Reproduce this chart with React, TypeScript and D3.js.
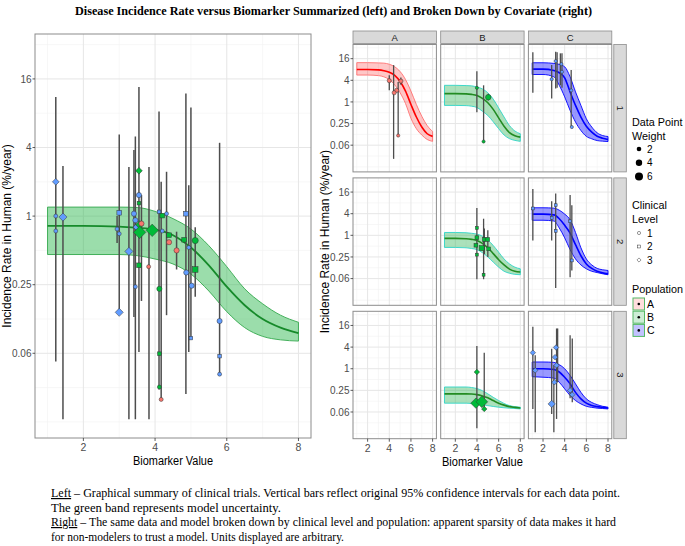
import React from "react";
import * as d3 from "d3";

const W = 685;
const H = 546;

const popColor: Record<string, string> = { A: "#F8766D", B: "#00BA38", C: "#619CFF" };

// model curve grid (biomarker values)
const curveX = [1, 2, 3, 3.5, 4, 4.5, 5, 5.5, 6, 6.5, 7, 7.5, 8];

// left: overall model
const leftMid = [0.82, 0.82, 0.81, 0.79, 0.76, 0.68, 0.53, 0.37, 0.24, 0.165, 0.125, 0.105, 0.094];
const leftLo = [0.46, 0.46, 0.46, 0.45, 0.42, 0.38, 0.31, 0.22, 0.145, 0.105, 0.088, 0.082, 0.08];
const leftHi = [1.2, 1.2, 1.2, 1.19, 1.1, 0.95, 0.77, 0.55, 0.36, 0.23, 0.17, 0.135, 0.117];

// facets: model per level (1-3) x population (A-C)
const a1Mid = [8, 8, 7.8, 7.4, 6.7, 5.5, 3.7, 2.0, 0.85, 0.38, 0.2, 0.13, 0.11];
const a1Lo = [5.6, 5.6, 5.4, 5.0, 4.2, 3.0, 1.8, 0.9, 0.35, 0.18, 0.12, 0.09, 0.08];
const a1Hi = [12.4, 12.4, 12.2, 12, 11.2, 9.5, 7.0, 4.2, 2.0, 0.85, 0.4, 0.22, 0.15];

const b1Mid = [1.7, 1.7, 1.68, 1.62, 1.5, 1.25, 0.95, 0.62, 0.36, 0.21, 0.14, 0.115, 0.105];
const b1Lo = [0.8, 0.8, 0.79, 0.76, 0.7, 0.55, 0.42, 0.28, 0.18, 0.12, 0.095, 0.085, 0.08];
const b1Hi = [2.9, 2.9, 2.85, 2.8, 2.6, 2.3, 1.8, 1.2, 0.68, 0.38, 0.22, 0.155, 0.13];

const c1Mid = [8.2, 8.2, 7.5, 6.5, 4.7, 1.9, 0.8, 0.38, 0.21, 0.144, 0.111, 0.098, 0.09];
const c1Lo = [5.8, 5.8, 5.0, 2.9, 1.38, 0.58, 0.275, 0.16, 0.11, 0.094, 0.084, 0.081, 0.079];
const c1Hi = [12.3, 12.3, 11.8, 11.1, 9.5, 5.0, 1.9, 0.8, 0.34, 0.2, 0.138, 0.116, 0.109];

const b2Mid = [0.82, 0.82, 0.8, 0.77, 0.72, 0.6, 0.45, 0.31, 0.21, 0.15, 0.115, 0.1, 0.095];
const b2Lo = [0.46, 0.46, 0.45, 0.43, 0.4, 0.33, 0.25, 0.18, 0.13, 0.1, 0.088, 0.082, 0.08];
const b2Hi = [1.2, 1.2, 1.18, 1.14, 1.08, 0.95, 0.75, 0.52, 0.34, 0.22, 0.16, 0.13, 0.117];

const c2Mid = [3.9, 3.9, 3.7, 2.9, 1.9, 1.15, 0.55, 0.27, 0.16, 0.12, 0.1, 0.09, 0.085];
const c2Lo = [2.63, 2.63, 2.5, 1.6, 0.85, 0.4, 0.22, 0.15, 0.117, 0.1, 0.092, 0.085, 0.08];
const c2Hi = [5.85, 5.85, 5.7, 5.0, 3.9, 2.7, 1.2, 0.45, 0.22, 0.15, 0.12, 0.11, 0.105];

const b3Mid = [0.2, 0.2, 0.2, 0.198, 0.19, 0.175, 0.155, 0.13, 0.11, 0.097, 0.088, 0.084, 0.081];
const b3Lo = [0.11, 0.11, 0.11, 0.108, 0.104, 0.1, 0.094, 0.089, 0.085, 0.082, 0.08, 0.078, 0.076];
const b3Hi = [0.31, 0.31, 0.31, 0.3, 0.28, 0.245, 0.2, 0.16, 0.13, 0.108, 0.094, 0.088, 0.085];

const c3Mid = [1.0, 1.0, 0.95, 0.81, 0.58, 0.38, 0.22, 0.145, 0.11, 0.095, 0.088, 0.084, 0.081];
const c3Lo = [0.6, 0.58, 0.55, 0.42, 0.275, 0.18, 0.13, 0.105, 0.09, 0.084, 0.08, 0.078, 0.076];
const c3Hi = [1.54, 1.54, 1.5, 1.3, 1.0, 0.65, 0.38, 0.22, 0.145, 0.115, 0.1, 0.09, 0.085];

// left points: [biomarker, rate, clinical level, weight]
const leftPtsC = [
  [1.23, 2.0, 3, 2], [1.23, 1.0, 1, 1], [1.23, 0.74, 1, 1], [1.43, 0.98, 3, 3],
  [3.0, 1.07, 2, 2], [2.94, 0.77, 1, 1], [3.0, 0.7, 1, 1], [3.0, 0.143, 3, 3],
  [3.27, 0.49, 3, 3], [3.41, 1.05, 1, 2], [3.45, 0.92, 1, 2], [3.45, 0.24, 1, 1],
  [3.55, 1.53, 1, 2], [3.48, 0.8, 3, 2], [4.11, 1.09, 2, 1], [4.2, 0.74, 1, 1],
  [4.32, 1.05, 1, 1], [4.86, 1.05, 2, 2], [4.94, 0.53, 1, 1], [4.87, 0.32, 1, 2],
  [5.02, 0.245, 1, 2], [5.0, 0.085, 2, 1], [5.8, 0.12, 1, 2], [5.8, 0.059, 2, 1],
  [5.8, 0.041, 1, 1],
];
const leftPtsB = [
  [3.55, 2.5, 3, 2], [3.55, 1.3, 2, 1], [3.57, 0.84, 3, 3], [3.57, 0.72, 3, 6],
  [3.55, 0.37, 2, 2], [3.92, 0.75, 3, 6], [4.2, 1.01, 2, 2], [4.12, 0.23, 1, 2],
  [4.12, 0.062, 2, 1], [4.12, 0.0316, 1, 1], [4.39, 0.68, 2, 2], [4.81, 0.62, 2, 2],
  [5.12, 0.61, 1, 3], [5.12, 0.34, 2, 3],
];
const leftPtsA = [
  [3.62, 0.86, 1, 2], [3.82, 0.36, 1, 1], [4.39, 0.59, 1, 2], [4.6, 0.5, 1, 2],
  [4.17, 0.0246, 1, 1],
];
// confidence intervals: [biomarker, lower, upper]
const leftBars = [
  [1.23, 0.053, 11.1], [1.43, 0.0165, 2.75], [3.0, 0.143, 5.2], [2.94, 0.58, 1.0],
  [3.27, 0.0165, 2.7], [3.41, 0.13, 3.8], [3.45, 0.0165, 5.0], [3.55, 0.064, 13.6],
  [3.62, 0.18, 1.53], [3.83, 0.0165, 2.7], [4.11, 0.03, 8.3], [4.17, 0.0246, 2.0],
  [4.32, 0.135, 2.45], [4.6, 0.34, 0.73], [4.86, 0.0275, 11.9], [4.94, 0.064, 1.87],
  [5.0, 0.085, 9.0], [5.12, 0.196, 0.8], [5.8, 0.041, 4.4],
];

// facet points: [biomarker, rate, weight]
const ptsA1 = [[4.0, 3.9, 2], [4.68, 2.1, 2], [4.45, 1.8, 2], [5.07, 3.8, 2], [4.82, 0.116, 1]];
const barsA1 = [[4.0, 2.1, 5.5], [4.4, 0.026, 10.6], [4.82, 0.116, 3.6], [5.07, 3.0, 4.8]];
const ptsB1 = [[3.99, 2.47, 1], [5.04, 1.35, 3], [4.61, 0.079, 1]];
const barsB1 = [[3.99, 0.52, 7.2], [4.61, 0.079, 2.9], [5.04, 1.1, 1.7]];
const ptsC1 = [[3.17, 13.7, 1], [2.8, 4.3, 1], [3.7, 11.3, 1], [3.75, 6.9, 1], [4.6, 2.1, 1], [4.66, 0.2, 1]];
const barsC1 = [[1.06, 1.8, 24], [2.8, 1.24, 10.6], [3.17, 2.36, 25], [3.3, 2.5, 24], [3.6, 2.9, 22.5], [3.75, 2.5, 22.5], [4.6, 0.2, 7.7]];
const ptsB2 = [[3.99, 1.61, 1], [3.99, 0.86, 2], [3.9, 0.53, 2], [3.99, 0.29, 1], [4.43, 0.44, 3], [4.68, 0.76, 2], [4.99, 0.77, 2], [5.08, 0.42, 2], [4.61, 0.08, 1]];
const barsB2 = [[3.99, 0.06, 5.8], [4.61, 0.06, 2.9], [4.68, 0.3, 1.54], [5.0, 0.25, 1.38]];
const ptsC2 = [[1.06, 5.6, 1], [2.8, 3.07, 1], [3.17, 6.9, 1], [3.17, 1.33, 1], [4.5, 2.46, 1], [4.66, 0.2, 1]];
const barsC2 = [[1.06, 0.72, 19.4], [2.8, 0.72, 8.9], [3.17, 0.034, 14.7], [4.5, 0.068, 13.2], [4.66, 0.105, 6.9]];
const ptsB3 = [[3.99, 0.81, 2], [3.9, 0.11, 5], [4.45, 0.12, 6], [4.67, 0.076, 2]];
const barsB3 = [[3.99, 0.022, 4.3], [4.67, 0.076, 2.8]];
const ptsC3 = [[1.06, 2.8, 2], [1.28, 0.9, 2], [2.8, 0.105, 3], [3.11, 2.1, 2], [3.2, 3.9, 2], [3.25, 1.24, 2], [3.05, 0.42, 2], [4.5, 0.25, 2], [4.7, 0.19, 2]];
const barsC3 = [[1.06, 0.076, 14.7], [1.28, 0.017, 2.36], [2.8, 0.055, 3.6], [3.0, 0.017, 1.24], [3.25, 0.04, 13.2], [3.35, 0.42, 13.2], [4.5, 0.15, 8.6], [4.7, 0.117, 6.9]];

const populations = ["A", "B", "C"];
const levels = ["1", "2", "3"];
const weightKeys = [2, 4, 6];
const yMajor = [16, 4, 1, 0.25, 0.0625];
const yLabels = ["16", "4", "1", "0.25", "0.06"];
const yMinor = [32, 8, 2, 0.5, 0.125, 0.03125, 0.015625];
const xMajor = [2, 4, 6, 8];
const xMinor = [1, 3, 5, 7];

const Y_DOMAIN: [number, number] = [Math.pow(2, -6.47), Math.pow(2, 5.31)];
const X_DOMAIN: [number, number] = [0.65, 8.35];

const font = "'Liberation Sans', Arial, sans-serif";
const serif = "'Liberation Serif', 'Times New Roman', serif";

const bandStyle: Record<string, any> = {
  A: { fill: "#ff0000", op: 0.22, stroke: "#ff7070", line: "#ff0000" },
  B: { fill: "#22b14c", op: 0.38, stroke: "#30d5c8", line: "#228b22" },
  C: { fill: "#0000ff", op: 0.4, stroke: "#0000ff", line: "#0000ff" },
};

function Mark({ level, cx, cy, r, fill }: any) {
  const common = { fill, stroke: "#333", strokeWidth: 0.5 };
  if (level === 1) return <circle cx={cx} cy={cy} r={r} {...common} />;
  if (level === 2) {
    const s = r * 0.9;
    return <rect x={cx - s} y={cy - s} width={2 * s} height={2 * s} {...common} />;
  }
  const d = r * 1.3;
  return <path d={`M${cx},${cy - d}L${cx + d},${cy}L${cx},${cy + d}L${cx - d},${cy}Z`} {...common} />;
}

function Grid({ x, y, x0, x1, y0, y1 }: any) {
  return (
    <g>
      {yMinor.map((v) => (
        <line key={"ym" + v} x1={x0} x2={x1} y1={y(v)} y2={y(v)} stroke="#f2f2f2" strokeWidth={0.6} />
      ))}
      {xMinor.map((v) => (
        <line key={"xm" + v} x1={x(v)} x2={x(v)} y1={y0} y2={y1} stroke="#f2f2f2" strokeWidth={0.6} />
      ))}
      {yMajor.map((v) => (
        <line key={"yM" + v} x1={x0} x2={x1} y1={y(v)} y2={y(v)} stroke="#e6e6e6" strokeWidth={1} />
      ))}
      {xMajor.map((v) => (
        <line key={"xM" + v} x1={x(v)} x2={x(v)} y1={y0} y2={y1} stroke="#e6e6e6" strokeWidth={1} />
      ))}
    </g>
  );
}

function Band({ x, y, mid, lo, hi, fill, op, stroke, line, sw, lw }: any) {
  const idx = curveX.map((_, i) => i);
  const area = d3.area<number>().x((i) => x(curveX[i])).y0((i) => y(lo[i])).y1((i) => y(hi[i])).curve(d3.curveMonotoneX);
  const ln = d3.line<number>().x((i) => x(curveX[i])).y((i) => y(mid[i])).curve(d3.curveMonotoneX);
  return (
    <g>
      <path d={area(idx) as string} fill={fill} fillOpacity={op} stroke={stroke} strokeWidth={sw} />
      <path d={ln(idx) as string} fill="none" stroke={line} strokeWidth={lw} />
    </g>
  );
}

function LeftPanel() {
  const x0 = 35, x1 = 311, y0 = 34, y1 = 438;
  const x = d3.scaleLinear().domain(X_DOMAIN).range([x0, x1]);
  const y = d3.scaleLog().base(2).domain(Y_DOMAIN).range([y1, y0]);
  const rOf = (w: number) => ({ 1: 2, 2: 2.6, 3: 3.1, 5: 4.3, 6: 4.8 } as any)[w];
  const all = [
    ...leftPtsC.map((p) => ({ p, pop: "C" })),
    ...leftPtsB.map((p) => ({ p, pop: "B" })),
    ...leftPtsA.map((p) => ({ p, pop: "A" })),
  ];
  return (
    <g>
      <rect x={x0} y={y0} width={x1 - x0} height={y1 - y0} fill="#fff" />
      <Grid x={x} y={y} x0={x0} x1={x1} y0={y0} y1={y1} />
      <Band x={x} y={y} mid={leftMid} lo={leftLo} hi={leftHi} fill="#2fb84f" op={0.48} stroke="#33a84d" line="#168a2a" sw={0.9} lw={1.8} />
      {leftBars.map((b, i) => (
        <line key={i} x1={x(b[0])} x2={x(b[0])} y1={y(b[1])} y2={y(b[2])} stroke="#4d4d4d" strokeWidth={1.5} />
      ))}
      {all.map(({ p, pop }, i) => (
        <Mark key={i} level={p[2]} cx={x(p[0])} cy={y(p[1])} r={rOf(p[3])} fill={popColor[pop]} />
      ))}
      <rect x={x0} y={y0} width={x1 - x0} height={y1 - y0} fill="none" stroke="#8c8c8c" strokeWidth={1} />
      {yMajor.map((v, i) => (
        <g key={v}>
          <line x1={x0 - 2.5} x2={x0} y1={y(v)} y2={y(v)} stroke="#333" strokeWidth={0.8} />
          <text x={x0 - 3.5} y={y(v) + 3.6} textAnchor="end" fontSize={10} fill="#4d4d4d" fontFamily={font}>{yLabels[i]}</text>
        </g>
      ))}
      {xMajor.map((v) => (
        <g key={v}>
          <line x1={x(v)} x2={x(v)} y1={y1} y2={y1 + 3} stroke="#333" strokeWidth={0.8} />
          <text x={x(v)} y={y1 + 13} textAnchor="middle" fontSize={10.5} fill="#4d4d4d" fontFamily={font}>{v}</text>
        </g>
      ))}
      <text x={(x0 + x1) / 2} y={465} textAnchor="middle" fontSize={12} fontFamily={font} textLength={80} lengthAdjust="spacingAndGlyphs">Biomarker Value</text>
      <text transform={`translate(10.5,${(y0 + y1) / 2}) rotate(-90)`} textAnchor="middle" fontSize={12} fontFamily={font}>Incidence Rate in Human (%/year)</text>
    </g>
  );
}

const facetDefs = [
  { row: 0, col: 0, pop: "A", curve: [a1Mid, a1Lo, a1Hi], pts: ptsA1, bars: barsA1 },
  { row: 0, col: 1, pop: "B", curve: [b1Mid, b1Lo, b1Hi], pts: ptsB1, bars: barsB1 },
  { row: 0, col: 2, pop: "C", curve: [c1Mid, c1Lo, c1Hi], pts: ptsC1, bars: barsC1 },
  { row: 1, col: 0, pop: "A", curve: null, pts: [], bars: [] },
  { row: 1, col: 1, pop: "B", curve: [b2Mid, b2Lo, b2Hi], pts: ptsB2, bars: barsB2 },
  { row: 1, col: 2, pop: "C", curve: [c2Mid, c2Lo, c2Hi], pts: ptsC2, bars: barsC2 },
  { row: 2, col: 0, pop: "A", curve: null, pts: [], bars: [] },
  { row: 2, col: 1, pop: "B", curve: [b3Mid, b3Lo, b3Hi], pts: ptsB3, bars: barsB3 },
  { row: 2, col: 2, pop: "C", curve: [c3Mid, c3Lo, c3Hi], pts: ptsC3, bars: barsC3 },
];

const PX0 = 353, PW = 83.4, PSTEP = 87.7;
const PY0 = 44.5, PH = 127.4, RSTEP = 133.4;

function Facet({ def }: any) {
  const x0 = PX0 + def.col * PSTEP, x1 = x0 + PW;
  const y0 = PY0 + def.row * RSTEP, y1 = y0 + PH;
  const x = d3.scaleLinear().domain(X_DOMAIN).range([x0, x1]);
  const y = d3.scaleLog().base(2).domain(Y_DOMAIN).range([y1, y0]);
  const st = bandStyle[def.pop];
  const rOf = (w: number) => ({ 1: 1.6, 2: 2.1, 3: 2.8, 5: 4, 6: 4.5 } as any)[w];
  return (
    <g>
      <rect x={x0} y={y0} width={PW} height={PH} fill="#fff" />
      <Grid x={x} y={y} x0={x0} x1={x1} y0={y0} y1={y1} />
      {def.curve && (
        <Band x={x} y={y} mid={def.curve[0]} lo={def.curve[1]} hi={def.curve[2]} fill={st.fill} op={st.op} stroke={st.stroke} line={st.line} sw={0.9} lw={1.6} />
      )}
      {def.bars.map((b: number[], i: number) => (
        <line key={i} x1={x(b[0])} x2={x(b[0])} y1={y(b[1])} y2={y(b[2])} stroke="#4d4d4d" strokeWidth={1.3} />
      ))}
      {def.pts.map((p: number[], i: number) => (
        <Mark key={i} level={def.row + 1} cx={x(p[0])} cy={y(p[1])} r={rOf(p[2])} fill={popColor[def.pop]} />
      ))}
      <rect x={x0} y={y0} width={PW} height={PH} fill="none" stroke="#8c8c8c" strokeWidth={1} />
      {def.col === 0 &&
        yMajor.map((v, i) => (
          <g key={v}>
            <line x1={x0 - 2.5} x2={x0} y1={y(v)} y2={y(v)} stroke="#333" strokeWidth={0.8} />
            <text x={x0 - 3.5} y={y(v) + 3.6} textAnchor="end" fontSize={10} fill="#4d4d4d" fontFamily={font}>{yLabels[i]}</text>
          </g>
        ))}
      {def.row === 2 &&
        xMajor.map((v) => (
          <g key={v}>
            <line x1={x(v)} x2={x(v)} y1={y1} y2={y1 + 3} stroke="#333" strokeWidth={0.8} />
            <text x={x(v)} y={y1 + 13} textAnchor="middle" fontSize={10.5} fill="#4d4d4d" fontFamily={font}>{v}</text>
          </g>
        ))}
    </g>
  );
}

function Legend() {
  const lx = 632;
  return (
    <g fontFamily={font}>
      <text x={lx} y={126} fontSize={10.8}>Data Point</text>
      <text x={lx} y={140} fontSize={10.8}>Weight</text>
      {weightKeys.map((w, i) => (
        <g key={w}>
          <circle cx={639} cy={149 + i * 13.8} r={[2.3, 3.2, 4][i]} fill="#000" />
          <text x={647} y={152.5 + i * 13.8} fontSize={10}>{w}</text>
        </g>
      ))}
      <text x={lx} y={209} fontSize={10.8}>Clinical</text>
      <text x={lx} y={223} fontSize={10.8}>Level</text>
      {levels.map((l, i) => (
        <g key={l}>
          <Mark level={i + 1} cx={639} cy={233 + i * 13.5} r={1.6} fill="none" />
          <text x={647} y={236.5 + i * 13.5} fontSize={10}>{l}</text>
        </g>
      ))}
      <text x={lx} y={293} fontSize={10.8}>Population</text>
      {populations.map((p, i) => (
        <g key={p}>
          <rect x={633} y={298 + i * 13.2} width={11.5} height={12} fill={bandStyle[p].fill} fillOpacity={bandStyle[p].op * 0.6} stroke="#55b865" strokeWidth={1} />
          <circle cx={638.8} cy={304 + i * 13.2} r={1.3} fill="#000" />
          <text x={647} y={308 + i * 13.2} fontSize={10.5}>{p}</text>
        </g>
      ))}
    </g>
  );
}

export default function App() {
  const stripY0 = 31, stripH = 12.5;
  const rsX = PX0 + 2 * PSTEP + PW + 2;
  return (
    <svg width={W} height={H} viewBox={`0 0 ${W} ${H}`} style={{ position: "absolute", left: 0, top: 0, background: "#fff" }}>
      <rect width={W} height={H} fill="#fff" />
      <text x={333.5} y={15} textAnchor="middle" fontFamily={serif} fontWeight="bold" fontSize={13} textLength={517} lengthAdjust="spacingAndGlyphs">
        Disease Incidence Rate versus Biomarker Summarized (left) and Broken Down by Covariate (right)
      </text>
      <LeftPanel />
      {populations.map((p, c) => (
        <g key={p}>
          <rect x={PX0 + c * PSTEP} y={stripY0} width={PW} height={stripH} fill="#d9d9d9" stroke="#8c8c8c" strokeWidth={0.8} />
          <text x={PX0 + c * PSTEP + PW / 2} y={stripY0 + 9.5} textAnchor="middle" fontSize={9.5} fill="#1a1a1a" fontFamily={font}>{p}</text>
        </g>
      ))}
      {levels.map((l, r) => (
        <g key={l}>
          <rect x={rsX} y={PY0 + r * RSTEP} width={12.5} height={PH} fill="#d9d9d9" stroke="#8c8c8c" strokeWidth={0.8} />
          <text transform={`translate(${rsX + 3},${PY0 + r * RSTEP + PH / 2}) rotate(90)`} textAnchor="middle" fontSize={9.5} fill="#1a1a1a" fontFamily={font}>{l}</text>
        </g>
      ))}
      {facetDefs.map((d, i) => (
        <Facet key={i} def={d} />
      ))}
      <text x={PX0 + (2 * PSTEP + PW) / 2} y={466} textAnchor="middle" fontSize={12} fontFamily={font} textLength={81} lengthAdjust="spacingAndGlyphs">Biomarker Value</text>
      <text transform={`translate(329,${PY0 + (2 * RSTEP + PH) / 2}) rotate(-90)`} textAnchor="middle" fontSize={12} fontFamily={font}>Incidence Rate in Human (%/year)</text>
      <Legend />
      <g fontFamily={serif} fontSize={12} fill="#000">
        <text x={51} y={497} textLength={569} lengthAdjust="spacingAndGlyphs">
          <tspan textDecoration="underline">Left</tspan> – Graphical summary of clinical trials. Vertical bars reflect original 95% confidence intervals for each data point.
        </text>
        <text x={51} y={511.5} textLength={230} lengthAdjust="spacingAndGlyphs">The green band represents model uncertainty.</text>
        <text x={51} y={526} textLength={565} lengthAdjust="spacingAndGlyphs">
          <tspan textDecoration="underline">Right</tspan> – The same data and model broken down by clinical level and population: apparent sparsity of data makes it hard
        </text>
        <text x={51} y={540.5} textLength={293} lengthAdjust="spacingAndGlyphs">for non-modelers to trust a model. Units displayed are arbitrary.</text>
      </g>
    </svg>
  );
}
